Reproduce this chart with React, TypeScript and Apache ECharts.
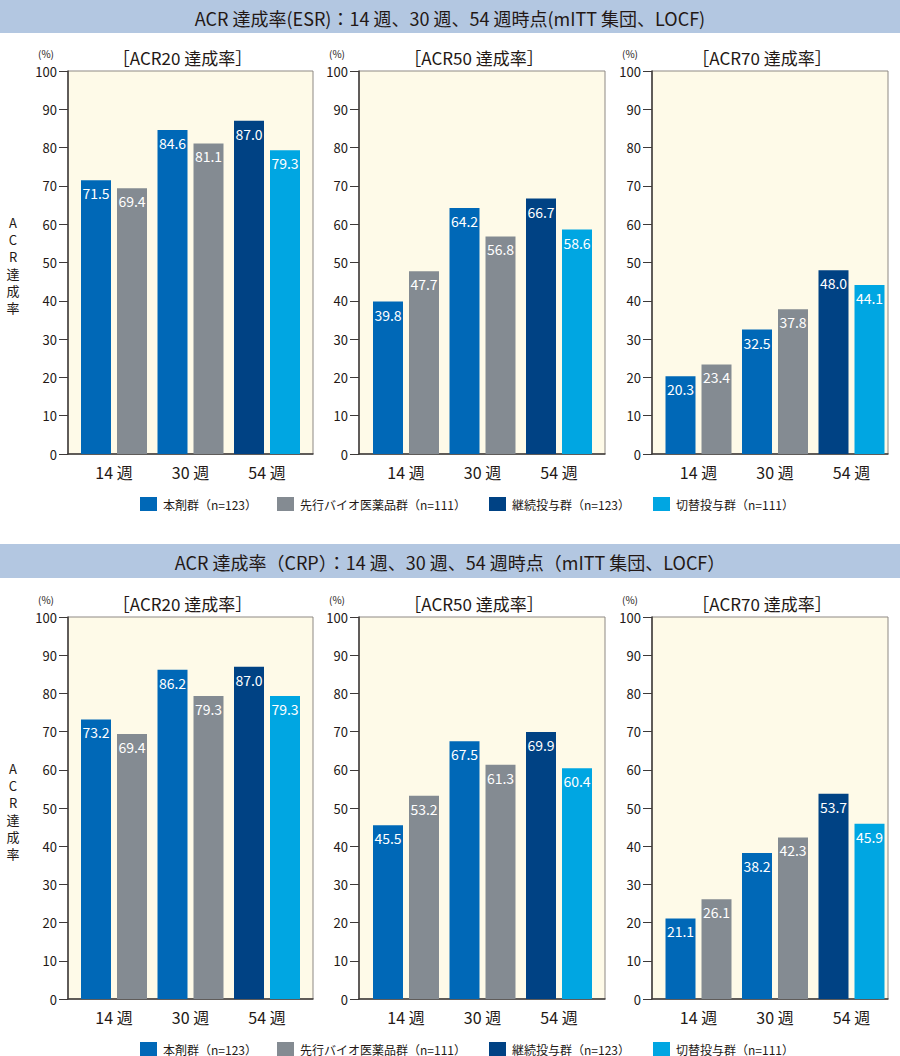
import React, { useEffect, useRef } from "react";
import * as echarts from "echarts";

const weeks = ["14 週", "30 週", "54 週"];
const groupNames = [
  "本剤群（n=123）",
  "先行バイオ医薬品群（n=111）",
  "継続投与群（n=123）",
  "切替投与群（n=111）",
];
const groupColors = ["#0068b7", "#848b92", "#004284", "#00a6e2"];
const yTicks = [0, 100, 10];

// order: 本剤14, 先行14, 本剤30, 先行30, 継続54, 切替54
const esrAcr20 = [71.5, 69.4, 84.6, 81.1, 87.0, 79.3];
const esrAcr50 = [39.8, 47.7, 64.2, 56.8, 66.7, 58.6];
const esrAcr70 = [20.3, 23.4, 32.5, 37.8, 48.0, 44.1];
const crpAcr20 = [73.2, 69.4, 86.2, 79.3, 87.0, 79.3];
const crpAcr50 = [45.5, 53.2, 67.5, 61.3, 69.9, 60.4];
const crpAcr70 = [21.1, 26.1, 38.2, 42.3, 53.7, 45.9];

const subTitles = ["［ACR20 達成率］", "［ACR50 達成率］", "［ACR70 達成率］"];
const panelTitles = [
  "ACR 達成率(ESR)：14 週、30 週、54 週時点(mITT 集団、LOCF)",
  "ACR 達成率（CRP）：14 週、30 週、54 週時点（mITT 集団、LOCF）",
];
const yAxisNameChars = ["A", "C", "R", "達", "成", "率"];

const FONT = "'Noto Sans CJK JP', 'Noto Sans', sans-serif";
const TEXT = "#231815";

export default function App() {
  const ref = useRef<HTMLDivElement>(null);
  useEffect(() => {
    document.body.style.margin = "0";
    const chart = echarts.init(ref.current!, null, { renderer: "svg" });

    const boxX = [
      { left: 68, width: 245, barLeft: 75.75 },
      { left: 359, width: 246, barLeft: 367.75 },
      { left: 652, width: 236, barLeft: 660.25 },
    ];
    const barGridWidth = 229.5;
    const panels = [
      { top: 71, height: 383, headerY: 0, headerH: 33, data: [esrAcr20, esrAcr50, esrAcr70] },
      { top: 617, height: 382, headerY: 544, headerH: 34, data: [crpAcr20, crpAcr50, crpAcr70] },
    ];

    const grids: any[] = [];
    const xAxes: any[] = [];
    const yAxes: any[] = [];
    const series: any[] = [];
    const graphics: any[] = [];
    const legends: any[] = [];
    const legendX = [140, 277, 489, 653];

    panels.forEach((p, pi) => {
      graphics.push({
        type: "rect",
        shape: { x: 0, y: p.headerY, width: 900, height: p.headerH },
        style: { fill: "#b3c7e1" },
        z: 0,
      });
      graphics.push({
        type: "text",
        x: 450,
        y: p.headerY + p.headerH / 2 + 1,
        style: {
          text: panelTitles[pi],
          fontSize: 18,
          fontFamily: FONT,
          fill: TEXT,
          textAlign: "center",
          textVerticalAlign: "middle",
        },
      });
      yAxisNameChars.forEach((ch, k) => {
        graphics.push({
          type: "text",
          x: 13,
          y: p.top + 151 + k * 17,
          style: {
            text: ch,
            fontSize: 13,
            fontFamily: FONT,
            fill: TEXT,
            textAlign: "center",
            textVerticalAlign: "middle",
          },
        });
      });
      groupNames.forEach((name, gi) => {
        legends.push({
          data: [name],
          left: legendX[gi],
          top: p.top + p.height + 43,
          itemWidth: 17,
          itemHeight: 14,
          itemGap: 0,
          icon: "rect",
          padding: 0,
          selectedMode: false,
          textStyle: { fontSize: 12, fontFamily: FONT, color: TEXT, padding: [0, 0, 0, 1] },
        });
      });

      boxX.forEach((g, ci) => {
        const boxIdx = grids.length;
        grids.push({
          left: g.left,
          width: g.width,
          top: p.top,
          height: p.height,
          show: true,
          backgroundColor: "#fefae8",
          borderColor: "#8e8984",
          borderWidth: 1,
        });
        const barIdx = grids.length;
        grids.push({
          left: g.barLeft,
          width: barGridWidth,
          top: p.top,
          height: p.height,
        });
        graphics.push({
          type: "text",
          x: g.left + g.width / 2 - 8,
          y: p.top - 14,
          style: {
            text: subTitles[ci],
            fontSize: 17,
            fontFamily: FONT,
            fill: TEXT,
            textAlign: "center",
            textVerticalAlign: "middle",
          },
        });
        graphics.push({
          type: "text",
          x: g.left - 22,
          y: p.top - 18,
          style: {
            text: "(%)",
            fontSize: 10,
            fontFamily: FONT,
            fill: TEXT,
            textAlign: "center",
            textVerticalAlign: "middle",
          },
        });
        // box axes
        xAxes.push({
          type: "category",
          gridIndex: boxIdx,
          data: [""],
          axisLine: { lineStyle: { color: "#3e3a39", width: 1.5 } },
          axisTick: { show: false },
          axisLabel: { show: false },
        });
        yAxes.push({
          type: "value",
          gridIndex: boxIdx,
          min: yTicks[0],
          max: yTicks[1],
          interval: yTicks[2],
          axisLine: { show: true, lineStyle: { color: "#3e3a39", width: 1.5 } },
          axisTick: { show: true, length: 9, lineStyle: { color: "#3e3a39" } },
          splitLine: { show: false },
          axisLabel: { fontSize: 13, fontFamily: FONT, color: TEXT, margin: 11 },
        });
        // bar axes
        xAxes.push({
          type: "category",
          gridIndex: barIdx,
          data: weeks,
          axisLine: { show: false },
          axisTick: { show: false },
          axisLabel: { fontSize: 16, fontFamily: FONT, color: TEXT, margin: 10 },
        });
        yAxes.push({
          type: "value",
          gridIndex: barIdx,
          min: yTicks[0],
          max: yTicks[1],
          interval: yTicks[2],
          show: false,
        });
        const d = p.data[ci];
        const seriesData = [
          [d[0], d[2], null],
          [d[1], d[3], null],
          [null, null, d[4]],
          [null, null, d[5]],
        ];
        seriesData.forEach((vals, si) => {
          series.push({
            type: "bar",
            name: groupNames[si],
            xAxisIndex: barIdx,
            yAxisIndex: barIdx,
            stack: "s" + barIdx + "_" + (si % 2),
            data: vals,
            barWidth: 30,
            barGap: "20%",
            itemStyle: { color: groupColors[si] },
            label: {
              show: true,
              position: "insideTop",
              distance: 6,
              color: "#ffffff",
              fontSize: 14,
              fontFamily: FONT,
              formatter: (q: any) => (q.value == null ? "" : Number(q.value).toFixed(1)),
            },
          });
        });
      });
    });

    chart.setOption({
      animation: false,
      backgroundColor: "#ffffff",
      textStyle: { fontFamily: FONT },
      grid: grids,
      xAxis: xAxes,
      yAxis: yAxes,
      legend: legends,
      series,
      graphic: graphics,
    });
    return () => chart.dispose();
  }, []);
  return <div ref={ref} style={{ width: 900, height: 1056 }} />;
}
